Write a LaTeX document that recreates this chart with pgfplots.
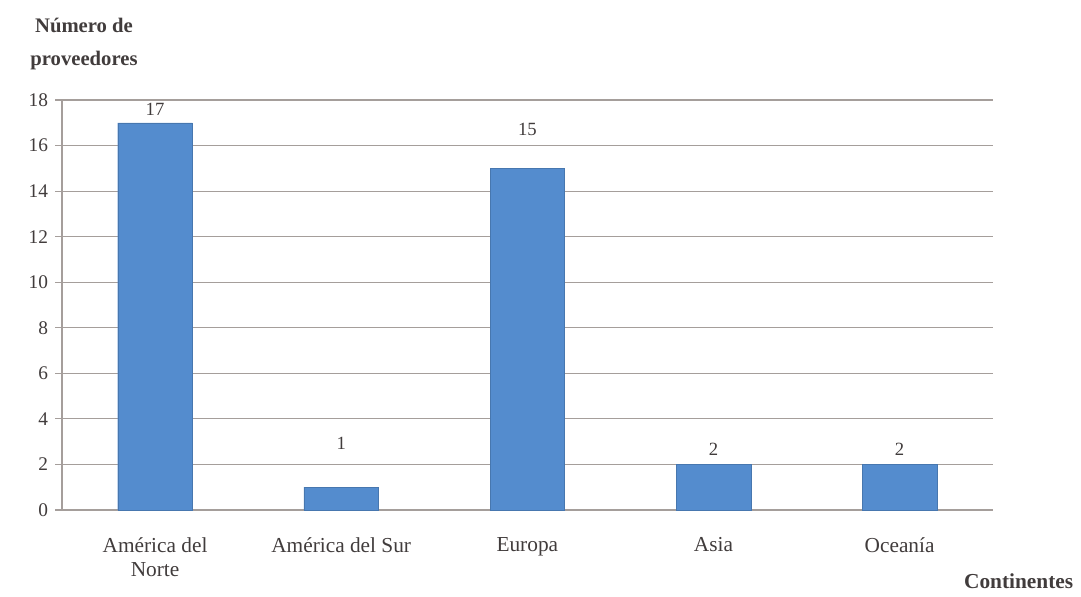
\documentclass[border=0pt]{standalone}
\usepackage{pgfplots}
\pgfplotsset{compat=1.18}
\usepackage{fontspec}
\setmainfont{Liberation Serif}
\definecolor{barblue}{RGB}{84,140,206}
\definecolor{gridc}{RGB}{165,158,155}
\definecolor{txt}{RGB}{65,60,60}
\begin{document}
\begin{tikzpicture}
\path[use as bounding box] (0pt,0pt) rectangle (810.75pt,447pt);
\begin{axis}[
  at={(46.5pt,64.5pt)}, anchor=south west,
  scale only axis, width=698pt, height=307.5pt,
  xmin=-0.5, xmax=4.5, ymin=0, ymax=18,
  ytick={0,2,...,18},
  xtick=data,
  xticklabels={{América del\\Norte},{América del Sur},{Europa},{Asia},{Oceanía}},
  xticklabel style={align=center, font=\fontsize{16}{18}\selectfont, text=txt, yshift=-12pt},
  yticklabel style={font=\fontsize{14.5}{16}\selectfont, text=txt, xshift=-2pt},
  /pgf/number format/assume math mode=true,
  ymajorgrids, grid style={gridc, line width=0.8pt},
  axis x line*=bottom, axis y line*=left,
  axis line style={gridc, line width=0.8pt},
  x axis line style={-}, y axis line style={-},
  major tick length=5pt,
  ytick style={gridc, line width=0.8pt},
  xtick style={draw=none},
  ytick align=outside,
  ybar, bar width=56pt,
  visualization depends on={\thisrow{s} \as \lshift},
  nodes near coords,
  nodes near coords style={font=\fontsize{14}{15}\selectfont, text=txt, yshift=\lshift pt},
  clip=false,
]
\addplot[fill=barblue, draw=barblue!85!black, line width=0.3pt] table[x=x, y=y] {
x y s
0 17 2
1 1 25
2 15 21
3 2 3
4 2 3
};
\end{axis}
\node[align=center, font=\bfseries\fontsize{15.5}{25}\selectfont, text=txt] at (63pt,414pt) {Número de\\proveedores};
\node[font=\bfseries\fontsize{16}{18}\selectfont, text=txt] at (764pt,11pt) {Continentes};
\end{tikzpicture}
\end{document}
